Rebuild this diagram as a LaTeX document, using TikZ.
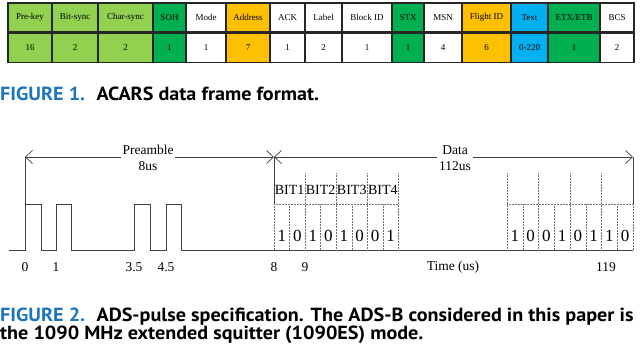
\documentclass[tikz,border=0pt]{standalone}
\usepackage{fontspec}
\setmainfont{Liberation Serif}
\newfontfamily\capfont[FakeStretch=1.06]{PT Sans}
\usepackage{xcolor}
\usetikzlibrary{arrows.meta,positioning}

\definecolor{keygreen}{HTML}{92D050}
\definecolor{ctlgreen}{HTML}{00B050}
\definecolor{addrorange}{HTML}{FFC000}
\definecolor{textblue}{HTML}{00B0F0}
\definecolor{capblue}{HTML}{1C75BC}

\begin{document}
\begin{tikzpicture}[
			x=1pt,y=-1pt,
			field/.style={
				draw=black!85,
				line width=1.1pt,
				minimum height=29pt,
				inner sep=0pt,
				font=\fontsize{9}{10}\selectfont
			},
			wave/.style={black!75,line width=0.7pt},
			gridline/.style={black!55,densely dotted,line width=0.5pt},
			span/.style={black!75,line width=0.7pt,{Straight Barb[length=7pt,width=13pt]}-{Straight Barb[length=7pt,width=13pt]}},
			lab/.style={font=\fontsize{13.5}{15.5}\selectfont,inner sep=0pt},
			bit/.style={font=\fontsize{17}{18}\selectfont,inner sep=0pt},
			caption/.style={anchor=base west,inner sep=0pt,font=\capfont\bfseries\fontsize{19}{20}\selectfont}
			]
			
			\path[use as bounding box,fill=white] (0,0) rectangle (640,343);
			
			% ACARS frame
			\foreach \l/\r/\head/\len/\col [count=\i] in {
				8/52/Pre-key/16/keygreen, 52/98/Bit-sync/2/keygreen, 98/153/Char-sync/2/keygreen,
				153/186/SOH/1/ctlgreen, 186/226/Mode/1/white, 226/270/Address/7/addrorange,
				270/305/ACK/1/white, 305/342/Label/2/white, 342/392/Block ID/1/white,
				392/424/STX/1/ctlgreen, 424/462/MSN/4/white, 462/511/Flight ID/6/addrorange,
				511/548/Text/0-220/textblue, 548/600/{ETX/ETB}/1/ctlgreen, 600/634/BCS/2/white}{
				\pgfmathsetmacro{\w}{\r-\l}
				\pgfmathsetmacro{\c}{(\l+\r)/2}
				\node[field,fill=\col,minimum width=\w pt] (head\i) at (\c,17.5) {\head};
				\node[field,fill=\col,minimum width=\w pt,below=0pt of head\i] (len\i) {\len};
			}
			
			\node[caption] (cap1) at (0,100)
			{\textcolor{capblue}{FIGURE 1.}\hspace{0.6em}ACARS data frame format.};
			
			% ADS-B pulses
			\coordinate (t0) at (25,157);
			\coordinate (t8) at (274,157);
			\coordinate (t120) at (633,157);
			
			\draw[span] (t0) -- (t8);
			\draw[span] (t8) -- (t120);
			\node[lab,fill=white,align=center,inner sep=2pt] (pre) at (148,158) {Preamble\\ 8us};
			\node[lab,fill=white,align=center,inner sep=2pt] (data) at (455,158) {Data\\ 112us};
			
			\draw[wave] (9,250) -| (25,204) -| (41,250) -| (56,204) -| (71,250)
			-| (134,204) -| (150,250) -| (166,204) -| (181,250) -- (633,250);
			\draw[wave] (t0) -- (25,204);
			\draw[wave] (t8) -- (274,204);
			\draw[wave] (t120) -- (633,204);
			
			\draw[gridline] (274,204) -- (398.4,204) (507,204) -- (633,204);
			\foreach \x in {274,633}
			\draw[gridline] (\x,204) -- (\x,250);
			\foreach \x in {305.1,336.2,367.3,398.4,507,538.5,570,601.5}
			\draw[gridline] (\x,173) -- (\x,250);
			\foreach \x in {289.6,320.7,351.8,382.9,522.75,554.25,585.75,617.25}
			\draw[gridline] (\x,204) -- (\x,250);
			
			\foreach \n in {1,...,4}
			\node[lab,font=\fontsize{14}{15}\selectfont] (bit\n) at ({274+31.1*(\n-0.5)},190) {BIT\n};
			
			\foreach \b [count=\k from 0] in {1,0,1,0,1,0,0,1}
			\node[bit] (first\k) at ({274+15.55*(\k+0.5)},236) {\b};
			\foreach \b [count=\k from 0] in {1,0,0,1,0,1,1,0}
			\node[bit] (last\k) at ({507+15.75*(\k+0.5)},236) {\b};
			
			\foreach \t/\x [count=\i] in {0/25,1/56,3.5/134,4.5/166,8/274,9/305,119/606}
			\node[lab] (tick\i) at (\x,267) {\t};
			\node[lab] (time) at (453,267) {Time (us)};
			
			\node[caption] (cap2) at (0,321)
			{\textcolor{capblue}{FIGURE 2.}\hspace{0.6em}ADS-pulse specification. The ADS-B considered in this paper is};
			\node[caption] (cap2b) at (0,339) {the 1090 MHz extended squitter (1090ES) mode.};
			
		\end{tikzpicture}
\end{document}
